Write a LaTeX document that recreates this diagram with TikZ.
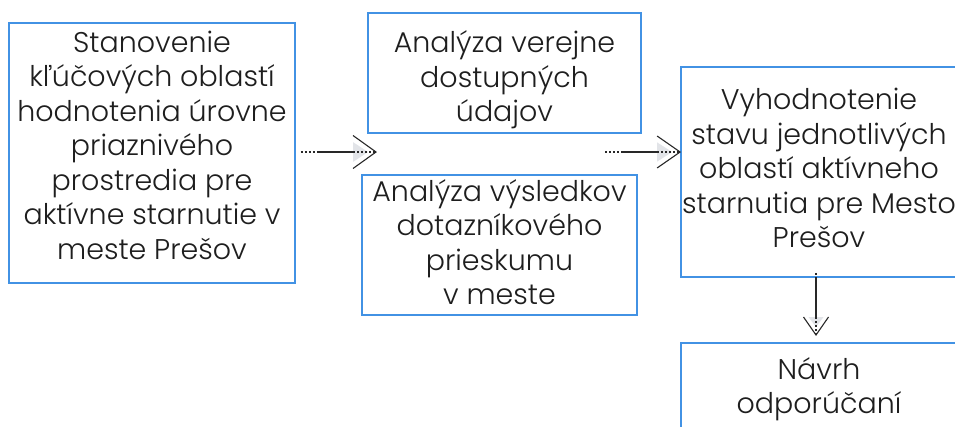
\documentclass[tikz,border=0pt]{standalone}
\usepackage{fontspec}
\setmainfont{Poppins Light}
\usetikzlibrary{calc}
\definecolor{boxblue}{RGB}{66,146,228}
\definecolor{txt}{RGB}{30,30,30}
\definecolor{arr}{RGB}{40,40,40}
\definecolor{trifill}{RGB}{226,228,232}
\tikzset{
  boxnode/.style={draw=boxblue, line width=1.8pt, inner sep=0pt},
  boxtext/.style={text=txt, align=center, inner sep=0pt, font=\fontsize{28.5}{34.5}\selectfont},
  arrowdot/.style={draw=arr, line width=1.1pt, dash pattern=on 2pt off 2pt},
  arrowline/.style={draw=arr, line width=1.2pt},
  chevron/.style={draw=arr, line width=1.1pt, line join=miter},
  tri/.style={fill=trifill, draw=none}
}
% start, end, chevron half width, chevron depth, dotted lead length
\newcommand\flowarrow[5]{%
  \coordinate (fa-d) at ($(#1)!#5!(#2)$);
  \coordinate (fa-b) at ($(#2)!#4!(#1)$);
  \coordinate (fa-t) at ($(#2)!8pt!(#1)$);
  \fill[tri] ($(fa-b)!0.6*#3!90:(#2)$) -- (fa-t) -- ($(fa-b)!0.6*#3!-90:(#2)$) -- cycle;
  \draw[arrowdot] (#1) -- (fa-d);
  \draw[arrowline] (fa-d) -- (fa-b);
  \draw[arrowdot] (fa-b) -- (#2);
  \draw[chevron] ($(fa-b)!#3!90:(#2)$) -- (#2) -- ($(fa-b)!#3!-90:(#2)$);
}
\begin{document}
\begin{tikzpicture}[x=1pt,y=-1pt]
\clip (0,0) rectangle (955,426);
\fill[white] (0,0) rectangle (955,426);
% boxes
\node[boxnode, minimum width=286pt, minimum height=260pt] (b1) at (152,153) {};
\node[boxnode, minimum width=273pt, minimum height=120pt] (b2) at (504.5,73) {};
\node[boxnode, minimum width=275pt, minimum height=140pt] (b3) at (499.5,245) {};
\node[boxnode, minimum width=276pt, minimum height=210pt] (b4) at (819,172) {};
\node[boxnode, minimum width=276pt, minimum height=120pt] (b5) at (819,403) {};
% texts
\node[boxtext] (t1) at (152,145) {Stanovenie\\kľúčových oblastí\\hodnotenia úrovne\\priaznivého\\prostredia pre\\aktívne starnutie v\\meste Prešov};
\node[boxtext] (t2) at (504.5,80) {Analýza verejne\\dostupných\\údajov};
\node[boxtext] (t3) at (499.5,242) {Analýza výsledkov\\dotazníkového\\prieskumu\\v meste};
\node[boxtext] (t4) at (819,168) {Vyhodnotenie\\stavu jednotlivých\\oblastí aktívneho\\starnutia pre Mesto\\Prešov};
\node[boxtext] (t5) at (819,389) {Návrh\\odporúčaní};
% arrows
\coordinate (a1s) at ($(b1.east)+(5,-1)$);
\coordinate (a1e) at (376,152);
\coordinate (a2s) at (605,152);
\coordinate (a2e) at (b4.west |- a2s);
\coordinate (a3s) at ($(b4.south)+(-3,-5)$);
\coordinate (a3e) at (816,335);
\flowarrow{a1s}{a1e}{16.5pt}{23pt}{18pt}
\flowarrow{a2s}{a2e}{16pt}{23pt}{17pt}
\flowarrow{a3s}{a3e}{12.5pt}{18pt}{6pt}
\end{tikzpicture}
\end{document}
